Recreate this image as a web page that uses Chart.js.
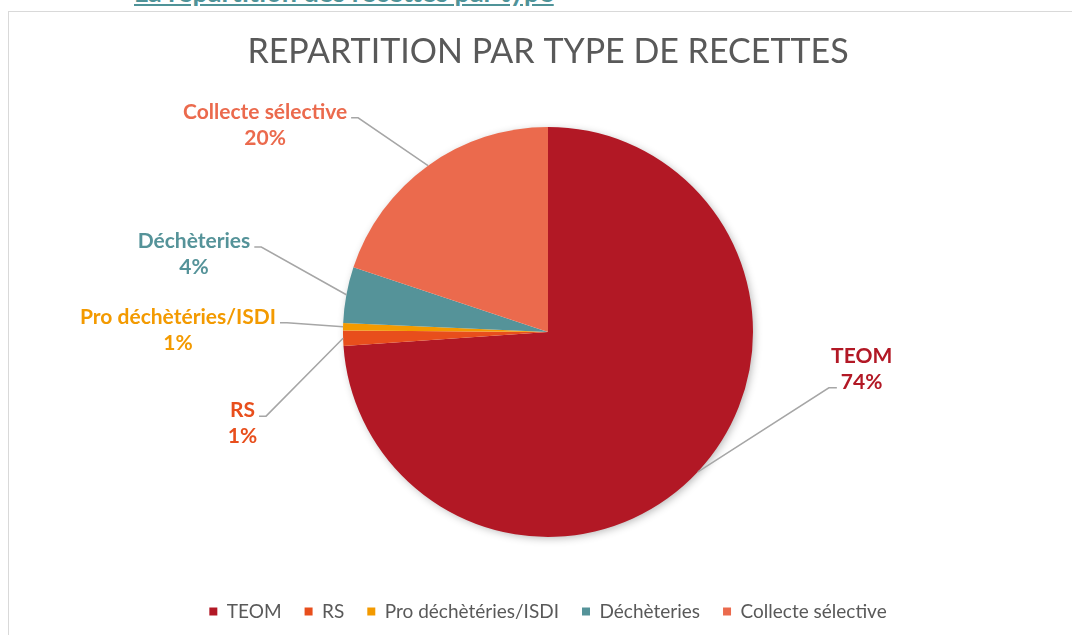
<!DOCTYPE html>
<html lang="fr">
<head>
<meta charset="utf-8">
<title>Répartition par type de recettes</title>
<script src="https://cdn.jsdelivr.net/npm/chart.js@4/dist/chart.umd.min.js"></script>
<style>
  html, body { margin: 0; padding: 0; background: #fff; overflow: hidden; width: 1072px; height: 635px; }
  .heading {
    position: absolute; left: 134px; top: -22px;
    font-family: Lato, sans-serif; font-weight: bold; font-size: 27px; line-height: 27px;
    color: #4f9398; text-decoration: underline; white-space: nowrap;
  }
  .box {
    position: absolute; left: 8px; top: 11px; width: 1078px; height: 640px;
    border: 1px solid #d9d9d9;
  }
  canvas { display: block; }
</style>
</head>
<body>
<div class="heading">La répartition des recettes par type</div>
<div class="box"><canvas id="pie" width="1078" height="623"></canvas></div>
<script>
// data (share of total, %)
const categories = ['TEOM', 'RS', 'Pro déchètéries/ISDI', 'Déchèteries', 'Collecte sélective'];
const values = [73.9, 1.2, 0.6, 4.4, 19.9];
const colors = ['#b21825', '#e84e1c', '#f39a00', '#559399', '#eb6a4d'];

// where each outside label sits, relative to the pie centre, in radius units
const labelOffsets = [[1.53, 0.18], [-1.49, 0.445], [-1.805, -0.01], [-1.727, -0.38], [-1.38, -1.01]];

const total = values.reduce((a, b) => a + b, 0);

// soft shadow under the whole pie
const pieShadow = {
    id: 'pieShadow',
    beforeDatasetsDraw(chart) {
        const arc = chart.getDatasetMeta(0).data[0];
        if (!arc) return;
        const {x, y, outerRadius} = arc.getProps(['x', 'y', 'outerRadius'], true);
        const ctx = chart.ctx;
        ctx.save();
        ctx.shadowColor = 'rgba(0,0,0,0.3)';
        ctx.shadowBlur = 8;
        ctx.shadowOffsetX = 2;
        ctx.shadowOffsetY = 2;
        ctx.beginPath();
        ctx.arc(x, y, outerRadius - 1, 0, Math.PI * 2);
        ctx.fillStyle = '#fff';
        ctx.fill();
        ctx.restore();
    }
};

// category + percentage labels outside the pie, with leader lines
const outsideLabels = {
    id: 'outsideLabels',
    afterDatasetsDraw(chart) {
        const ctx = chart.ctx;
        const meta = chart.getDatasetMeta(0);
        ctx.save();
        ctx.font = 'bold 21px Lato';
        ctx.textAlign = 'center';
        ctx.textBaseline = 'middle';
        meta.data.forEach((arc, i) => {
            const {x, y, startAngle, endAngle, outerRadius} =
                arc.getProps(['x', 'y', 'startAngle', 'endAngle', 'outerRadius'], true);
            const mid = (startAngle + endAngle) / 2;
            const px = x + Math.cos(mid) * outerRadius;
            const py = y + Math.sin(mid) * outerRadius;
            const cx = x + labelOffsets[i][0] * outerRadius;
            const cy = y + labelOffsets[i][1] * outerRadius;
            const line1 = categories[i];
            const line2 = Math.round(values[i] / total * 100) + '%';
            const y1 = cy - 13, y2 = cy + 13;

            // leader line
            ctx.beginPath();
            ctx.strokeStyle = '#a6a6a6';
            ctx.lineWidth = 1.5;
            if (cx < x) {
                const sx = cx + ctx.measureText(line1).width / 2 + 4;
                ctx.moveTo(sx, y1 + 6);
                ctx.lineTo(sx + 7, y1 + 6);
            } else {
                const sx = cx - ctx.measureText(line2).width / 2 - 4;
                ctx.moveTo(sx, y2 + 6);
                ctx.lineTo(sx - 8, y2 + 6);
            }
            ctx.lineTo(px, py);
            ctx.stroke();

            ctx.fillStyle = colors[i];
            ctx.fillText(line1, cx, y1);
            ctx.fillText(line2, cx, y2);
        });
        ctx.restore();
    }
};

const pieChart = new Chart(document.getElementById('pie').getContext('2d'), {
    type: 'pie',
    data: {
        labels: categories,
        datasets: [{
            data: values,
            backgroundColor: colors,
            borderWidth: 0,
            hoverOffset: 0
        }]
    },
    options: {
        responsive: false,
        animation: false,
        radius: 205,
        layout: { padding: { top: 0, bottom: 4, left: 0, right: 0 } },
        plugins: {
            title: {
                display: true,
                text: 'REPARTITION PAR TYPE DE RECETTES',
                color: '#595959',
                font: { family: 'Lato', size: 34, weight: 'normal', lineHeight: 1.2 },
                padding: { top: 20, bottom: 12 }
            },
            legend: {
                position: 'bottom',
                labels: {
                    boxWidth: 8,
                    boxHeight: 8,
                    padding: 23,
                    color: '#595959',
                    font: { family: 'Lato', size: 19 }
                }
            },
            tooltip: { enabled: false }
        }
    },
    plugins: [pieShadow, outsideLabels]
});
</script>
</body>
</html>
